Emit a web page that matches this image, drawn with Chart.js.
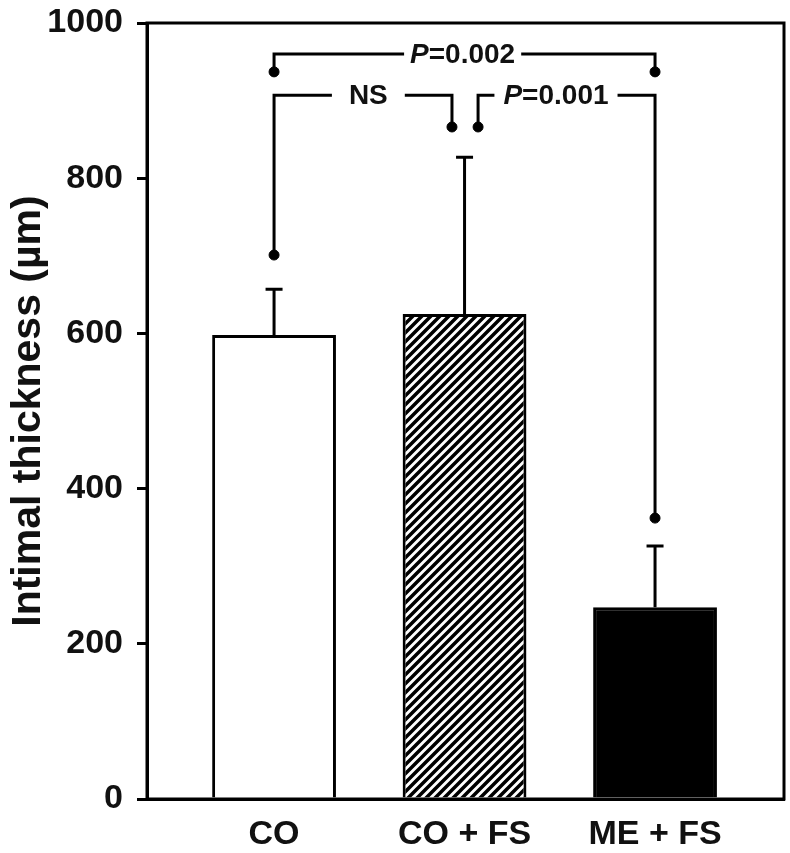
<!DOCTYPE html>
<html>
<head>
<meta charset="utf-8">
<script src="https://cdn.jsdelivr.net/npm/chart.js@4.4.0/dist/chart.umd.min.js"></script>
<style>
  html, body { margin: 0; padding: 0; background: #fff; }
  #wrap { width: 790px; height: 853px; }
</style>
</head>
<body>
<div id="wrap"><canvas id="cvs"></canvas></div>
<script>
/* data */
const groups = ['CO', 'CO + FS', 'ME + FS'];
const groupX = [1, 2, 3];
const means = [598, 625, 247];
const errTop = [657, 827, 326];
const yTicks = [0, 200, 400, 600, 800, 1000];

// significance brackets (x in group units, y in µm), dots at both ends
const brkOuterX = [1, 1, 3, 3];
const brkOuterY = [937, 960, 960, 937];
const brkLeftX = [1, 1, 1.934, 1.934];
const brkLeftY = [701, 907, 907, 866];
const brkRightX = [2.071, 2.071, 3, 3];
const brkRightY = [866, 907, 907, 362];
const sigText = ['P=0.002', 'NS', 'P=0.001'];
const sigItalicP = [true, false, true];
const sigX = [1.99, 1.495, 2.48];
const sigY = [960, 907, 907];
const sigGap = [6, 17, 9];

const FONT = '"Liberation Sans", Arial, Helvetica, sans-serif';
const INK = '#111';

/* helpers */
const mkHatch = () => {
  const p = 9, c = document.createElement('canvas');
  c.width = p; c.height = p;
  const g = c.getContext('2d');
  g.fillStyle = '#fff'; g.fillRect(0, 0, p, p);
  g.strokeStyle = '#000'; g.lineWidth = 3.5;
  g.beginPath();
  g.moveTo(0, p); g.lineTo(p, 0);
  g.moveTo(-p / 2, p / 2); g.lineTo(p / 2, -p / 2);
  g.moveTo(p / 2, p * 1.5); g.lineTo(p * 1.5, p / 2);
  g.stroke();
  return g.createPattern(c, 'repeat');
};

const pts = (xs, ys) => xs.map((v, i) => ({ x: v, y: ys[i] }));

const bracket = (xs, ys) => ({
  type: 'line',
  data: pts(xs, ys),
  borderColor: '#000',
  borderWidth: 3,
  borderJoinStyle: 'miter',
  borderCapStyle: 'butt',
  fill: false,
  tension: 0,
  pointRadius: [5, 0, 0, 5],
  pointBorderWidth: 1,
  pointBackgroundColor: '#000',
  pointBorderColor: '#000'
});

/* error bars, frame, bracket labels */
const extras = {
  id: 'extras',
  afterDatasetsDraw(c) {
    const { ctx, chartArea: a, scales: { x, y } } = c;
    ctx.save();
    ctx.strokeStyle = '#000';
    ctx.lineWidth = 3;
    ctx.lineCap = 'butt';

    groupX.forEach((gx, i) => {
      const px = x.getPixelForValue(gx);
      const y0 = y.getPixelForValue(means[i]);
      const y1 = y.getPixelForValue(errTop[i]);
      ctx.beginPath();
      ctx.moveTo(px, y0); ctx.lineTo(px, y1);
      ctx.moveTo(px - 8.5, y1); ctx.lineTo(px + 8.5, y1);
      ctx.stroke();
    });

    ctx.strokeRect(a.left, a.top, a.right - a.left, a.bottom - a.top);

    const fs = 28;
    const fBold = `bold ${fs}px ${FONT}`;
    const fItal = `italic bold ${fs}px ${FONT}`;
    ctx.textBaseline = 'middle';
    ctx.textAlign = 'left';
    sigText.forEach((t, i) => {
      const head = sigItalicP[i] ? t[0] : '';
      const tail = sigItalicP[i] ? t.slice(1) : t;
      ctx.font = fItal; const wH = head ? ctx.measureText(head).width : 0;
      ctx.font = fBold; const wT = ctx.measureText(tail).width;
      const w = wH + wT;
      const cx = x.getPixelForValue(sigX[i]);
      const cy = y.getPixelForValue(sigY[i]);
      const x0 = cx - w / 2;
      ctx.fillStyle = '#fff';
      ctx.fillRect(x0 - sigGap[i], cy - 6, w + 2 * sigGap[i], 12);
      ctx.fillStyle = INK;
      if (head) { ctx.font = fItal; ctx.fillText(head, x0, cy + 1); }
      ctx.font = fBold; ctx.fillText(tail, x0 + wH, cy + 1);
    });
    ctx.restore();
  }
};

/* main */
const cvs = document.getElementById('cvs');
new Chart(cvs, {
  type: 'bar',
  data: {
    datasets: [
      {
        type: 'bar',
        data: pts(groupX, means),
        backgroundColor: ['#fff', mkHatch(), '#000'],
        borderColor: '#000',
        borderWidth: 3,
        borderSkipped: 'start',
        barPercentage: 0.65,
        categoryPercentage: 1
      },
      bracket(brkOuterX, brkOuterY),
      bracket(brkLeftX, brkLeftY),
      bracket(brkRightX, brkRightY)
    ]
  },
  options: {
    responsive: true, maintainAspectRatio: false,
    devicePixelRatio: 1,
    animation: false,
    layout: { padding: { top: 23, right: 6, left: 0, bottom: 0 } },
    plugins: { legend: { display: false }, tooltip: { enabled: false } },
    scales: {
      x: {
        type: 'linear', min: 0.333, max: 3.677, offset: false,
        afterBuildTicks: s => { s.ticks = groupX.map(v => ({ value: v })); },
        afterFit: s => { s.height = 54; s.paddingLeft = 0; s.paddingRight = 0; },
        border: { color: '#000', width: 3 },
        grid: { display: false, drawTicks: false },
        ticks: {
          autoSkip: false, maxRotation: 0, minRotation: 0,
          color: INK, padding: 15,
          font: { family: FONT, size: 34, weight: 'bold' },
          callback: v => groups[groupX.indexOf(v)]
        }
      },
      y: {
        min: 0, max: 1000,
        afterBuildTicks: s => { s.ticks = yTicks.map(v => ({ value: v })); },
        afterFit: s => { s.width = 147; s.paddingTop = 0; s.paddingBottom = 0; },
        border: { color: '#000', width: 3 },
        grid: { drawOnChartArea: false, color: '#000', lineWidth: 3, tickLength: 10 },
        ticks: {
          color: INK, padding: 14,
          font: { family: FONT, size: 34, weight: 'bold' },
          callback: v => String(v)
        },
        title: {
          display: true, text: 'Intimal thickness (µm)', color: INK,
          font: { family: FONT, size: 41, weight: 'bold', lineHeight: 1.2 },
          padding: { top: 4, bottom: 0 }
        }
      }
    }
  },
  plugins: [extras]
});
</script>
</body>
</html>
